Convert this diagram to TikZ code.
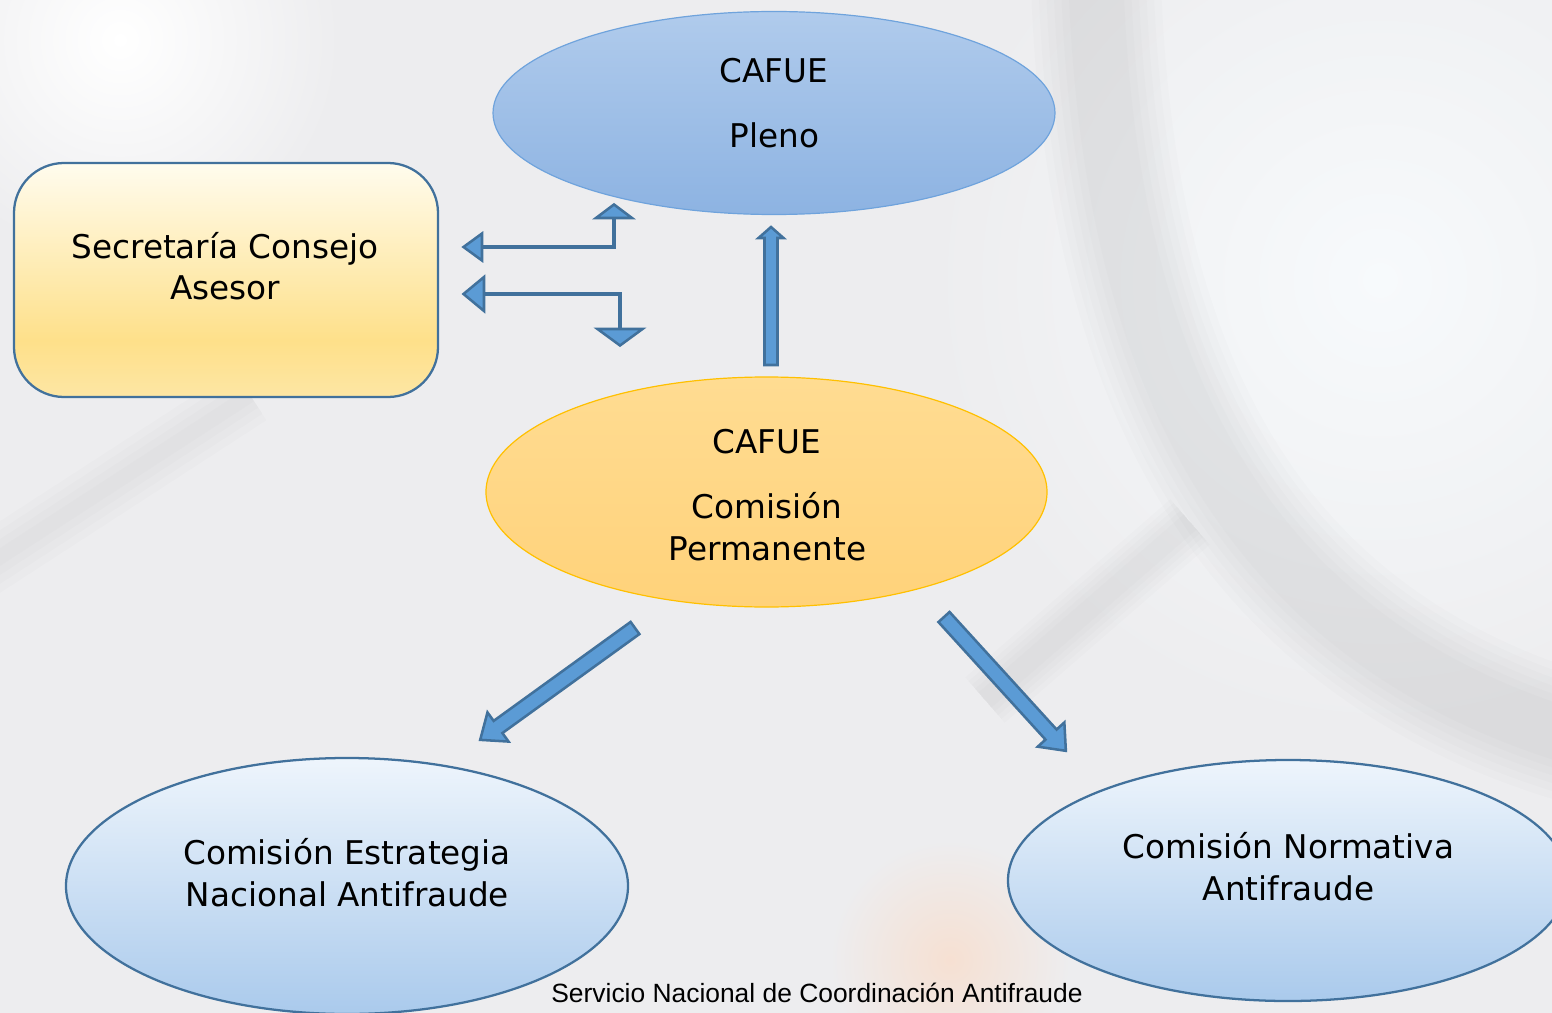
\documentclass[tikz,border=0pt]{standalone}
\usepackage{fontspec}
\setmainfont{DejaVu Sans}
\newfontfamily\footfont{Liberation Sans}
\usetikzlibrary{shapes.geometric}

\definecolor{bg}{HTML}{EDEDEF}
\definecolor{arrowfill}{HTML}{5B9BD5}
\definecolor{arrowline}{HTML}{41719C}
\definecolor{plenoTop}{HTML}{B0CBEC}
\definecolor{plenoBot}{HTML}{8DB3E2}
\definecolor{plenoLine}{HTML}{6FA3DC}
\definecolor{permTop}{HTML}{FFDC92}
\definecolor{permBot}{HTML}{FFD27A}
\definecolor{permLine}{HTML}{FFC000}
\definecolor{secTop}{HTML}{FFFCEE}
\definecolor{secMid}{HTML}{FEE08A}
\definecolor{secBot}{HTML}{FDE6A4}
\definecolor{comTop}{HTML}{EEF5FC}
\definecolor{comBot}{HTML}{AACAEC}
\definecolor{peach}{HTML}{F6E0D2}
\definecolor{paleblue}{HTML}{F7FAFC}

\pgfdeclareverticalshading{secshade}{100bp}{%
  color(0bp)=(secBot); color(25bp)=(secBot); color(37bp)=(secMid);
  color(75bp)=(secTop); color(100bp)=(secTop)}

\newcommand\barrow[4]{%
  \draw[blockarrow] (0,{-#1/2}) -- ({#4-#3},{-#1/2}) -- ({#4-#3},{-#2/2})
    -- (#4,0) -- ({#4-#3},{#2/2}) -- ({#4-#3},{#1/2}) -- (0,{#1/2}) -- cycle;}

\tikzset{
  lbl/.style={font=\fontsize{24.5pt}{29pt}\selectfont, text=black, inner sep=0pt, anchor=base},
  foot/.style={font=\footfont\fontsize{19.8pt}{24pt}\selectfont, text=black, inner sep=0pt, anchor=base},
  plenoshape/.style={ellipse, inner sep=0pt, minimum width=421.5pt, minimum height=152.25pt,
    draw=plenoLine, line width=0.9pt, top color=plenoTop, bottom color=plenoBot},
  permshape/.style={ellipse, inner sep=0pt, minimum width=420.75pt, minimum height=172.5pt,
    draw=permLine, line width=0.9pt, top color=permTop, bottom color=permBot},
  comshape/.style={ellipse, inner sep=0pt, draw=arrowline, line width=1.7pt,
    top color=comTop, bottom color=comBot},
  secshape/.style={rectangle, inner sep=0pt, minimum width=318pt, minimum height=175.5pt,
    rounded corners=37.5pt, draw=arrowline, line width=1.7pt, shading=secshade},
  blockarrow/.style={fill=arrowfill, draw=arrowline, line width=1.9pt, line join=miter},
  elbow/.style={draw=arrowline, line width=2.5pt},
  tri/.style={fill=arrowfill, draw=arrowline, line width=1.9pt, line join=miter},
  soft/.style={gray, opacity=0.025},
}

\begin{document}
\begin{tikzpicture}[x=0.75pt, y=-0.75pt]
\useasboundingbox (0,0) rectangle (1552,1013);

% background
\fill[bg] (0,0) rectangle (1552,1013);
\shade[inner color=paleblue, outer color=bg] (1380,280) circle [radius=450];
\shade[inner color=white, outer color=bg] (120,40) circle [radius=220];
\shade[inner color=peach, outer color=bg] (950,960) circle [radius=120];
\foreach \w in {130,115,100,85,70,55}{
  \draw[soft, line width=\w*0.75pt]
    (1095,-60) .. controls (1100,380) and (1250,650) .. (1600,745);
}
\foreach \w in {60,50,40,30,20}{
  \draw[soft, line width=\w*0.75pt] (985,700) -- (1190,522);
}
\foreach \w in {60,45,30,15}{
  \draw[soft, line width=\w*0.75pt] (-20,570) -- (250,395);
}

% shapes
\node[plenoshape] (pleno) at (774,113) {};
\node[secshape] (sec) at (226,280) {};
\node[permshape] (perm) at (766.5,492) {};
\node[comshape, minimum width=421.5pt, minimum height=192pt] (estr) at (347,886) {};
\node[comshape, minimum width=420pt, minimum height=180.75pt] (norm) at (1288,880.5) {};

% block arrows
\coordinate (upT) at (771,365);
\coordinate (ldT) at (635,628);
\coordinate (rdT) at (944,617);
\begin{scope}[shift={(upT)}, rotate=90]\barrow{13}{25}{11}{138}\end{scope}
\begin{scope}[shift={(ldT)}, rotate=215.85]\barrow{15}{36}{22}{191}\end{scope}
\begin{scope}[shift={(rdT)}, rotate=-47.68]\barrow{15}{36}{22}{181}\end{scope}

% elbow arrows: lines
\coordinate (e1a) at (482,247);
\coordinate (e1b) at (614,218);
\coordinate (e2a) at (484,294);
\coordinate (e2b) at (620,329);
\draw[elbow] (e1a) -| (e1b);
\draw[elbow] (e2a) -| (e2b);
% elbow arrows: heads
\draw[tri] (e1a) ++(0,-13.5) -- ++(0,27) -- (463.5,247) -- cycle;
\draw[tri] (e1b) ++(-18,0) -- ++(36,0) -- (614,204.5) -- cycle;
\draw[tri] (e2a) ++(0,-17) -- ++(0,34) -- (463.5,294) -- cycle;
\draw[tri] (e2b) ++(-22.5,0) -- ++(45,0) -- (620,345.5) -- cycle;

% texts
\node[lbl] (plenoA) at (774,83) {CAFUE};
\node[lbl] (plenoB) at (774.5,148) {Pleno};
\node[lbl] (secA) at (225,258) {Secretaría Consejo};
\node[lbl] (secB) at (225,299) {Asesor};
\node[lbl] (permA) at (766.5,453) {CAFUE};
\node[lbl] (permB) at (767,518) {Comisión};
\node[lbl] (permC) at (767.5,560) {Permanente};
\node[lbl] (estrA) at (347,864) {Comisión Estrategia};
\node[lbl] (estrB) at (347.5,906) {Nacional Antifraude};
\node[lbl] (normA) at (1288.5,858) {Comisión Normativa};
\node[lbl] (normB) at (1288.5,900) {Antifraude};
\node[foot] (footer) at (817,1002) {Servicio Nacional de Coordinación Antifraude};
\end{tikzpicture}
\end{document}
